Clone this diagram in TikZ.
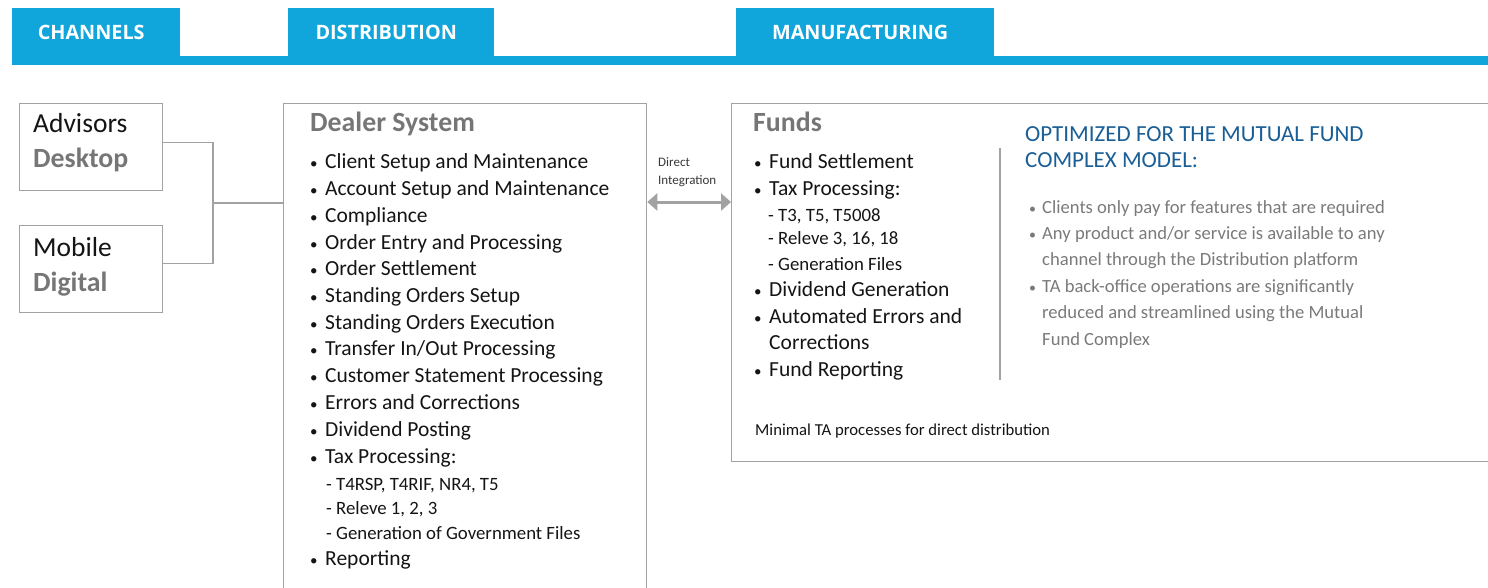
\documentclass[tikz,border=0pt]{standalone}
\usepackage{fontspec}
\setmainfont{Carlito}
\newfontfamily\hdrfont{Open Sans}
\usetikzlibrary{arrows.meta}
\definecolor{hdrblue}{RGB}{16,165,219}
\definecolor{boxgray}{RGB}{162,162,162}
\definecolor{headgray}{RGB}{118,118,118}
\definecolor{txtgray}{RGB}{122,122,122}
\definecolor{optblue}{RGB}{26,94,150}
\definecolor{bodyblack}{RGB}{20,20,20}
\newcommand\mybul{\makebox[15pt][l]{\fontsize{15}{15}\selectfont\textbullet}}
\newcommand\mysbul{\makebox[13pt][l]{\fontsize{14}{14}\selectfont\textbullet}}
\begin{document}
\begin{tikzpicture}[x=1pt,y=-1pt,
  box/.style={draw=boxgray, line width=1.3pt, inner sep=0pt, anchor=north west},
  tab/.style={fill=hdrblue, inner sep=0pt, anchor=north west, text=white, font=\hdrfont\bfseries\fontsize{19.8}{21}\selectfont},
  item/.style={anchor=base west, inner sep=0pt, text=bodyblack, font=\fontsize{21.5}{25}\selectfont},
  subitem/.style={anchor=base west, inner sep=0pt, text=bodyblack, font=\fontsize{18.8}{21}\selectfont},
  ttl/.style={anchor=base west, inner sep=0pt, text=headgray, font=\bfseries\fontsize{27.8}{30}\selectfont},
  chan/.style={anchor=base west, inner sep=0pt, text=bodyblack, font=\fontsize{27.5}{30}\selectfont},
  chanb/.style={anchor=base west, inner sep=0pt, text=headgray, font=\bfseries\fontsize{27.8}{30}\selectfont},
  opt/.style={anchor=base west, inner sep=0pt, text=optblue, font=\fontsize{23}{25}\selectfont},
  grayitem/.style={anchor=base west, inner sep=0pt, text=txtgray, font=\fontsize{18.6}{20}\selectfont},
  small/.style={anchor=base west, inner sep=0pt, text=bodyblack!85, font=\fontsize{13}{15}\selectfont},
  note/.style={anchor=base west, inner sep=0pt, text=bodyblack, font=\fontsize{16.7}{18}\selectfont},
  conn/.style={draw=boxgray, line width=1.3pt},
  arr/.style={draw=boxgray, line width=3pt, {Triangle[length=10pt,width=17pt]}-{Triangle[length=10pt,width=17pt]}}
]
\path[use as bounding box] (0,0) rectangle (1488,587);
\clip (0,0) rectangle (1488,587);

% header bar and tabs
\fill[hdrblue] (12,56) rectangle (1500,65);
\node[tab, minimum width=168pt, minimum height=49pt] (tch) at (12,8) {\raisebox{-2pt}{CHANNELS}\hspace*{10pt}};
\node[tab, minimum width=206pt, minimum height=49pt] (tdi) at (288,8) {\raisebox{-2pt}{DISTRIBUTION}\hspace*{10pt}};
\node[tab, minimum width=258pt, minimum height=49pt] (tma) at (736,8) {\raisebox{-2pt}{MANUFACTURING}\hspace*{10pt}};

% channel boxes
\node[box, minimum width=143pt, minimum height=87pt] (adv) at (19,103) {};
\node[box, minimum width=143pt, minimum height=87pt] (mob) at (19,225) {};
\node[chan] (advt) at (33,132) {Advisors};
\node[chanb] (advb) at (33,167) {Desktop};
\node[chan] (mobt) at (33,256) {Mobile};
\node[chanb] (mobb) at (33,291) {Digital};

% dealer and funds boxes
\node[box, minimum width=363pt, minimum height=540pt] (dealer) at (283,103) {};
\node[box, minimum width=820pt, minimum height=358pt] (funds) at (731,103) {};

% connectors
\coordinate (j) at (213,203);
\draw[conn] ([yshift=4.5pt]adv.east) -| (j) |- ([yshift=6pt]mob.east);
\draw[conn] (j) -- (j -| dealer.west);

% direct integration arrow
\coordinate (ay) at (0,202);
\draw[arr] (dealer.east |- ay) -- (funds.west |- ay);
\node[small] (di1) at (658,166) {Direct};
\node[small] (di2) at (658,184) {Integration};

% dealer system
\node[ttl] (dst) at (310,131) {Dealer System};
\foreach \yy/\tt [count=\i] in {
  168/{Client Setup and Maintenance},
  195/{Account Setup and Maintenance},
  222/{Compliance},
  249/{Order Entry and Processing},
  275/{Order Settlement},
  302/{Standing Orders Setup},
  329/{Standing Orders Execution},
  355/{Transfer In/Out Processing},
  382/{Customer Statement Processing},
  409/{Errors and Corrections},
  436/{Dividend Posting},
  463/{Tax Processing:},
  565/{Reporting}}
  \node[item] (d\i) at (310,\yy) {\mybul\tt};
\foreach \yy/\tt [count=\i] in {
  490/{- T4RSP, T4RIF, NR4, T5},
  514/{- Releve 1, 2, 3},
  539/{- Generation of Government Files}}
  \node[subitem] (ds\i) at (326,\yy) {\tt};

% funds
\node[ttl] (fdt) at (753,131) {Funds};
\foreach \yy/\tt [count=\i] in {
  168/{\mybul Fund Settlement},
  195/{\mybul Tax Processing:},
  296/{\mybul Dividend Generation},
  323/{\mybul Automated Errors and},
  349/{\hspace*{15pt}Corrections},
  376/{\mybul Fund Reporting}}
  \node[item] (f\i) at (754,\yy) {\tt};
\foreach \yy/\tt [count=\i] in {
  221/{- T3, T5, T5008},
  244/{- Releve 3, 16, 18},
  270/{- Generation Files}}
  \node[subitem] (fs\i) at (768,\yy) {\tt};
\coordinate (dv1) at (1000,148);
\coordinate (dv2) at (1000,380);
\draw[conn] (dv1) -- (dv2);
\node[note] (minimal) at (755,435) {Minimal TA processes for direct distribution};

% optimized block
\node[opt] (o1) at (1025,141) {OPTIMIZED FOR THE MUTUAL FUND};
\node[opt] (o2) at (1025,167) {COMPLEX MODEL:};
\foreach \yy/\tt [count=\i] in {
  213/{\mysbul Clients only pay for features that are required},
  239/{\mysbul Any product and/or service is available to any},
  265/{\hspace*{13pt}channel through the Distribution platform},
  292/{\mysbul TA back-office operations are significantly},
  318/{\hspace*{13pt}reduced and streamlined using the Mutual},
  345/{\hspace*{13pt}Fund Complex}}
  \node[grayitem] (g\i) at (1029,\yy) {\tt};
\end{tikzpicture}
\end{document}
